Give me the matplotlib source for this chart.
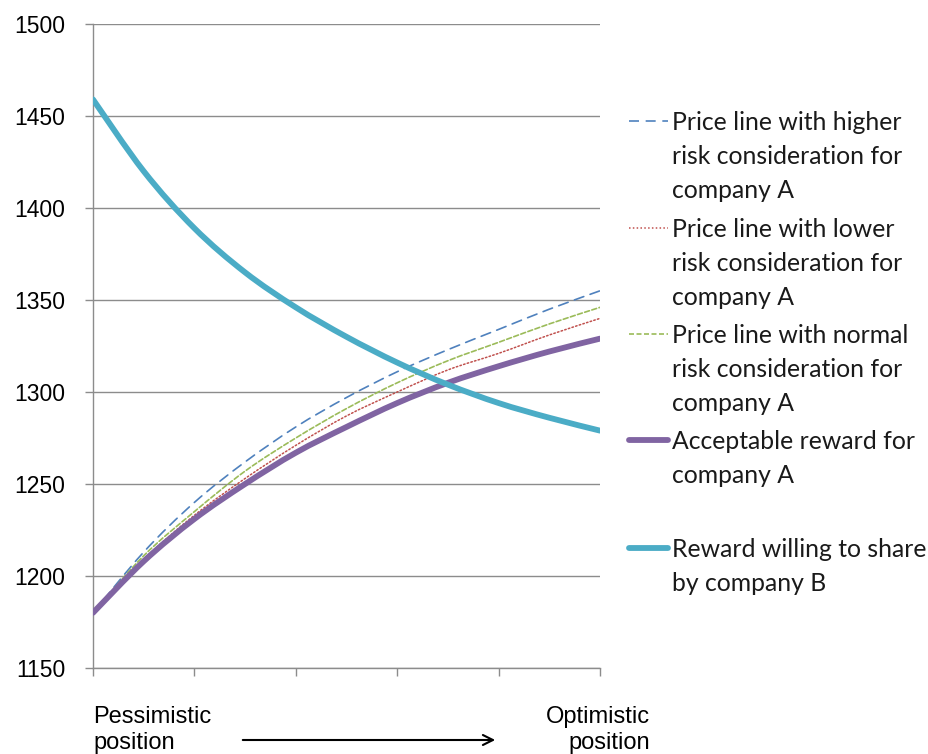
import numpy as np
import matplotlib
matplotlib.use("Agg")
import matplotlib.pyplot as plt
from matplotlib.lines import Line2D
from matplotlib.path import Path
from matplotlib.patches import PathPatch, FancyArrowPatch

# positions along the pessimistic -> optimistic axis (half-tick steps)
positions = np.arange(11)

higher_risk = [1180, 1213, 1240, 1262, 1281, 1297, 1311, 1323, 1334, 1345, 1355]
lower_risk = [1180, 1209, 1233, 1253, 1271, 1287, 1300, 1312, 1321, 1331, 1340]
normal_risk = [1180, 1211, 1235, 1257, 1275, 1291, 1305, 1317, 1327, 1337, 1346]
acceptable_a = [1180, 1208, 1231, 1250, 1267, 1281, 1294, 1305, 1314, 1322, 1329]
willing_b = [1459, 1420, 1389, 1365, 1346, 1330, 1316, 1304, 1294, 1286, 1279]

y_ticks = [1150, 1200, 1250, 1300, 1350, 1400, 1450, 1500]

labels = [
    "Price line with higher\nrisk consideration for\ncompany A",
    "Price line with lower\nrisk consideration for\ncompany A",
    "Price line with normal\nrisk consideration for\ncompany A",
    "Acceptable reward for\ncompany A",
    "Reward willing to share\nby company B",
]

W, H = 929, 754
fig = plt.figure(figsize=(W / 100, H / 100), dpi=100)


def fx(px):
    return px / W


def fy(py):
    return 1 - py / H


def smooth_path(x, y):
    # Excel style "smoothed line": bezier segments through the data points
    pts = np.column_stack([x, y]).astype(float)
    verts = [pts[0]]
    codes = [Path.MOVETO]
    n = len(pts)
    for i in range(n - 1):
        p0 = pts[max(i - 1, 0)]
        p1 = pts[i]
        p2 = pts[i + 1]
        p3 = pts[min(i + 2, n - 1)]
        verts += [p1 + (p2 - p0) / 6, p2 - (p3 - p1) / 6, p2]
        codes += [Path.CURVE4] * 3
    return Path(verts, codes)


ax = fig.add_axes([fx(93), fy(668), fx(600) - fx(93), fy(24) - fy(668)])

styles = [
    dict(color="#4F81BD", lw=1.2, ls=(0, (6, 4))),
    dict(color="#C0504D", lw=1.1, ls=(0, (1, 1.5))),
    dict(color="#9BBB59", lw=1.2, ls=(0, (3, 1.5))),
    dict(color="#8064A2", lw=4.2, ls="-"),
    dict(color="#4BACC6", lw=4.2, ls="-"),
]
series = [higher_risk, lower_risk, normal_risk, acceptable_a, willing_b]

for vals, st in zip(series, styles):
    patch = PathPatch(smooth_path(positions, vals), fill=False,
                      edgecolor=st["color"], lw=st["lw"], ls=st["ls"],
                      capstyle="round", joinstyle="round", zorder=3)
    ax.add_patch(patch)

ax.set_xlim(0, 10)
ax.set_ylim(1150, 1500)
ax.set_yticks(y_ticks)
ax.set_xticks([0, 2, 4, 6, 8, 10])
ax.set_xticklabels([])
ax.yaxis.grid(True, color="#8c8c8c", lw=1.0)
ax.set_axisbelow(True)
for s in ["top", "right"]:
    ax.spines[s].set_visible(False)
for s in ["left", "bottom"]:
    ax.spines[s].set_color("#8c8c8c")
    ax.spines[s].set_linewidth(1.0)
ax.tick_params(axis="y", length=6, width=1.0, color="#8c8c8c", pad=14,
               labelsize=16.5)
ax.tick_params(axis="x", length=6, width=1.0, color="#8c8c8c")
for t in ax.get_yticklabels():
    t.set_fontfamily("Liberation Sans")

# legend drawn by hand (handle sits on first text line, like the original)
entry_y = [121, 228, 334, 440, 548]
for y, st, lab in zip(entry_y, styles, labels):
    capstyle = "round" if st["ls"] == "-" else "butt"
    fig.add_artist(Line2D([fx(629), fx(668)], [fy(y), fy(y)],
                          transform=fig.transFigure, color=st["color"],
                          lw=st["lw"], ls=st["ls"], solid_capstyle=capstyle))
    fig.text(fx(672), fy(y - 10), lab, ha="left", va="top", fontsize=17.8,
             family="Lato", linespacing=1.57, color="#1a1a1a")

# bottom axis captions and arrow
fig.text(fx(93), fy(706), "Pessimistic\nposition", ha="left", va="top",
         fontsize=17, family="Liberation Sans", linespacing=1.25)
fig.text(fx(650), fy(706), "Optimistic\nposition", ha="right", va="top",
         fontsize=17, family="Liberation Sans", linespacing=1.25,
         multialignment="right")
fig.add_artist(FancyArrowPatch(
    (fx(240), fy(740)), (fx(498), fy(740)), transform=fig.transFigure,
    arrowstyle="->", mutation_scale=18, lw=1.5, color="black"))

fig.savefig("out.png", dpi=100)
